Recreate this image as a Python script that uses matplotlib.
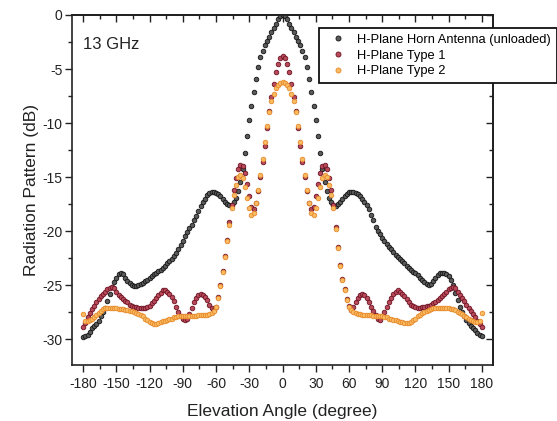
import matplotlib
matplotlib.use("Agg")
import matplotlib.pyplot as plt
from matplotlib.ticker import MultipleLocator, FuncFormatter

plt.rcParams['font.family'] = ['Liberation Sans', 'DejaVu Sans']
plt.rcParams['axes.unicode_minus'] = False

angles = list(range(-180, 181, 2))

horn = [
    -29.8, -29.7, -29.6, -29.3, -29.0, -28.8, -28.6, -28.3, -27.9, -27.5,
    -27.1, -26.5, -25.8, -25.2, -24.7, -24.3, -24.0, -23.9, -24.0, -24.3,
    -24.6, -24.8, -25.0, -25.1, -25.1, -25.0, -24.9, -24.8, -24.6, -24.5,
    -24.3, -24.2, -24.0, -23.9, -23.7, -23.6, -23.4, -23.2, -23.0, -22.8,
    -22.6, -22.3, -22.0, -21.7, -21.3, -20.9, -20.5, -20.1, -19.7, -19.4,
    -19.0, -18.6, -18.1, -17.7, -17.3, -17.0, -16.7, -16.5, -16.4, -16.4,
    -16.5, -16.6, -16.8, -17.0, -17.3, -17.5, -17.6, -17.6, -17.3, -16.9,
    -16.3, -15.5, -14.3, -12.8, -11.2, -9.7, -8.4, -7.1, -5.9, -4.8,
    -3.9, -3.3, -2.8, -2.4, -2.0, -1.6, -1.2, -0.8, -0.4, -0.1,
    0.0,
    -0.1, -0.4, -0.8, -1.2, -1.6, -2.0, -2.4, -2.8, -3.3, -3.9,
    -4.8, -5.9, -7.1, -8.4, -9.7, -11.2, -12.8, -14.3, -15.5, -16.3,
    -16.9, -17.3, -17.6, -17.7, -17.5, -17.3, -17.0, -16.8, -16.6, -16.4,
    -16.4, -16.4, -16.5, -16.6, -16.8, -17.0, -17.3, -17.6, -18.0, -18.5,
    -19.0, -19.6, -20.0, -20.3, -20.6, -20.9, -21.2, -21.5, -21.7, -21.9,
    -22.2, -22.4, -22.6, -22.8, -23.0, -23.2, -23.4, -23.6, -23.8, -23.9,
    -24.1, -24.3, -24.5, -24.7, -24.9, -25.0, -24.9, -24.6, -24.3, -24.1,
    -23.9, -23.9, -23.9, -24.0, -24.2, -24.5, -25.0, -25.7, -26.4, -27.0,
    -27.5, -27.9, -28.2, -28.5, -28.8, -29.0, -29.2, -29.4, -29.6, -29.7,
]

type1 = [
    -28.9, -28.5, -28.0, -27.6, -27.2, -26.9, -26.6, -26.3, -26.0, -25.8,
    -25.6, -25.4, -25.3, -25.2, -25.3, -25.6, -25.9, -26.1, -26.3, -26.5,
    -26.6, -26.8, -26.9, -27.0, -27.0, -27.1, -27.1, -27.1, -27.1, -27.0,
    -26.9, -26.7, -26.5, -26.2, -25.9, -25.7, -25.5, -25.5, -25.6, -25.8,
    -26.1, -26.5, -27.0, -27.5, -27.9, -28.1, -28.2, -28.1, -27.7, -27.1,
    -26.6, -26.2, -25.9, -25.8, -25.9, -26.1, -26.4, -26.8, -27.1, -27.3,
    -27.0, -26.1, -25.0, -23.7, -22.3, -20.8, -19.2, -17.6, -16.2, -15.1,
    -14.3, -13.9, -14.0, -14.6, -15.6, -16.8, -17.8, -18.0, -17.4, -16.3,
    -15.0, -13.6, -12.1, -10.5, -8.9, -7.6, -6.4, -5.3, -4.5, -4.0,
    -3.8,
    -4.0, -4.5, -5.3, -6.4, -7.6, -8.9, -10.5, -12.1, -13.6, -15.0,
    -16.3, -17.4, -18.0, -17.8, -16.8, -15.6, -14.6, -14.0, -13.9, -14.3,
    -15.1, -16.2, -17.6, -19.6, -21.5, -23.1, -24.4, -25.4, -26.3, -26.9,
    -27.3, -27.0, -26.6, -26.2, -25.9, -25.8, -25.9, -26.2, -26.6, -27.0,
    -27.4, -27.8, -28.1, -28.2, -27.9, -27.5, -27.0, -26.6, -26.2, -25.8,
    -25.6, -25.5, -25.6, -25.8, -26.0, -26.3, -26.6, -26.8, -26.9, -27.0,
    -27.1, -27.1, -27.0, -27.0, -26.9, -26.9, -26.8, -26.7, -26.6, -26.4,
    -26.2, -26.0, -25.8, -25.6, -25.4, -25.3, -25.2, -25.3, -25.6, -25.9,
    -26.2, -26.5, -26.8, -27.1, -27.4, -27.7, -28.0, -28.3, -28.6, -28.9,
]

type2 = [
    -27.7, -28.3, -28.3, -28.2, -28.1, -28.0, -27.8, -27.6, -27.4, -27.2,
    -27.1, -27.1, -27.1, -27.1, -27.1, -27.1, -27.2, -27.2, -27.2, -27.3,
    -27.3, -27.4, -27.4, -27.5, -27.6, -27.7, -27.8, -27.9, -28.1, -28.2,
    -28.4, -28.5, -28.6, -28.6, -28.5, -28.4, -28.3, -28.3, -28.2, -28.1,
    -28.1, -28.0, -28.0, -27.9, -27.9, -27.9, -27.9, -27.9, -27.9, -27.9,
    -27.9, -27.9, -27.8, -27.8, -27.8, -27.8, -27.8, -27.7, -27.6, -27.4,
    -27.0, -26.2, -25.1, -23.8, -22.4, -20.9, -19.4, -17.9, -16.7, -15.7,
    -15.0, -14.8, -15.1, -15.9, -16.9, -17.9, -18.5, -18.3, -17.4, -16.2,
    -14.8, -13.3, -11.8, -10.3, -9.0, -8.0, -7.3, -6.8, -6.5, -6.3,
    -6.2,
    -6.3, -6.5, -6.8, -7.3, -8.0, -9.0, -10.3, -11.8, -13.3, -14.8,
    -16.2, -17.4, -18.3, -18.5, -17.9, -16.9, -15.9, -15.1, -14.8, -15.0,
    -15.7, -16.7, -17.9, -19.8, -21.6, -23.2, -24.5, -25.5, -26.4, -27.0,
    -27.3, -27.5, -27.6, -27.7, -27.7, -27.8, -27.8, -27.8, -27.8, -27.8,
    -27.9, -27.9, -27.9, -27.9, -27.9, -28.0, -28.0, -28.1, -28.1, -28.2,
    -28.2, -28.3, -28.4, -28.4, -28.5, -28.5, -28.5, -28.4, -28.2, -28.1,
    -27.9, -27.8, -27.6, -27.5, -27.4, -27.3, -27.2, -27.1, -27.1, -27.1,
    -27.1, -27.1, -27.1, -27.1, -27.1, -27.2, -27.2, -27.3, -27.5, -27.6,
    -27.7, -27.9, -28.0, -28.1, -28.2, -28.3, -28.4, -28.4, -28.3, -27.6,
]

labels = ["H-Plane Horn Antenna (unloaded)", "H-Plane Type 1", "H-Plane Type 2"]
x_ticks = list(range(-180, 181, 30))
y_ticks = [0, -5, -10, -15, -20, -25, -30]

fig = plt.figure(figsize=(5.57, 4.21), dpi=100)
ax = fig.add_axes([72/557, 56/421, (493-72)/557, (365-15)/421])

styles = [
    dict(mfc='#5a5a5a', mec='#151515'),
    dict(mfc='#b84a5a', mec='#6e1424'),
    dict(mfc='#f9bb62', mec='#e8892a'),
]
for vals, lab, st in zip([horn, type1, type2], labels, styles):
    ax.plot(angles, vals, linestyle='none', marker='o', markersize=3.3,
            markeredgewidth=0.6, label=lab, **st)

ax.set_xlim(-190, 190)
ax.set_ylim(-32.4, 0)
ax.set_xticks(x_ticks)
ax.set_yticks(y_ticks)
ax.xaxis.set_minor_locator(MultipleLocator(15))
ax.yaxis.set_minor_locator(MultipleLocator(2.5))
fmt = FuncFormatter(lambda v, p: ('%d' % round(v)).replace('\u2212', '-'))
ax.xaxis.set_major_formatter(fmt)
ax.yaxis.set_major_formatter(fmt)

ax.tick_params(which='both', direction='out', labelsize=10, width=1.0, colors='#222222')
ax.tick_params(which='major', length=5)
ax.tick_params(which='minor', length=3)
ax.tick_params(axis='x', pad=4)
ax.tick_params(axis='y', pad=2)
for s in ax.spines.values():
    s.set_linewidth(1.2)
    s.set_color('#222222')

# mirrored inward ticks on top and right
axt = ax.secondary_xaxis('top')
axt.set_xticks(x_ticks)
axt.xaxis.set_minor_locator(MultipleLocator(15))
axt.tick_params(which='both', direction='in', labeltop=False, width=1.0, colors='#222222')
axt.tick_params(which='major', length=5)
axt.tick_params(which='minor', length=3)
axt.spines['top'].set_linewidth(1.2)
axr = ax.secondary_yaxis('right')
axr.set_yticks(y_ticks)
axr.yaxis.set_minor_locator(MultipleLocator(2.5))
axr.tick_params(which='both', direction='in', labelright=False, width=1.0, colors='#222222')
axr.tick_params(which='major', length=5)
axr.tick_params(which='minor', length=3)
axr.spines['right'].set_linewidth(1.2)

ax.set_xlabel('Elevation Angle (degree)', fontsize=12.5, color='#222222', labelpad=9)
ax.set_ylabel('Radiation Pattern (dB)', fontsize=12.5, color='#222222', labelpad=2)
ax.text(-180, -2.7, '13 GHz', fontsize=12, va='center', ha='left', color='#222222')

leg = fig.legend(loc='upper left', bbox_to_anchor=(319/557, 1 - 28/421),
                 fontsize=9.3, frameon=True, fancybox=False, framealpha=1,
                 edgecolor='#111111', borderpad=0.45, labelspacing=0.28,
                 handlelength=2.0, handletextpad=0.5, numpoints=1,
                 borderaxespad=0, markerscale=1.1)
leg.get_frame().set_linewidth(1.3)

fig.savefig('out.png', dpi=100)
